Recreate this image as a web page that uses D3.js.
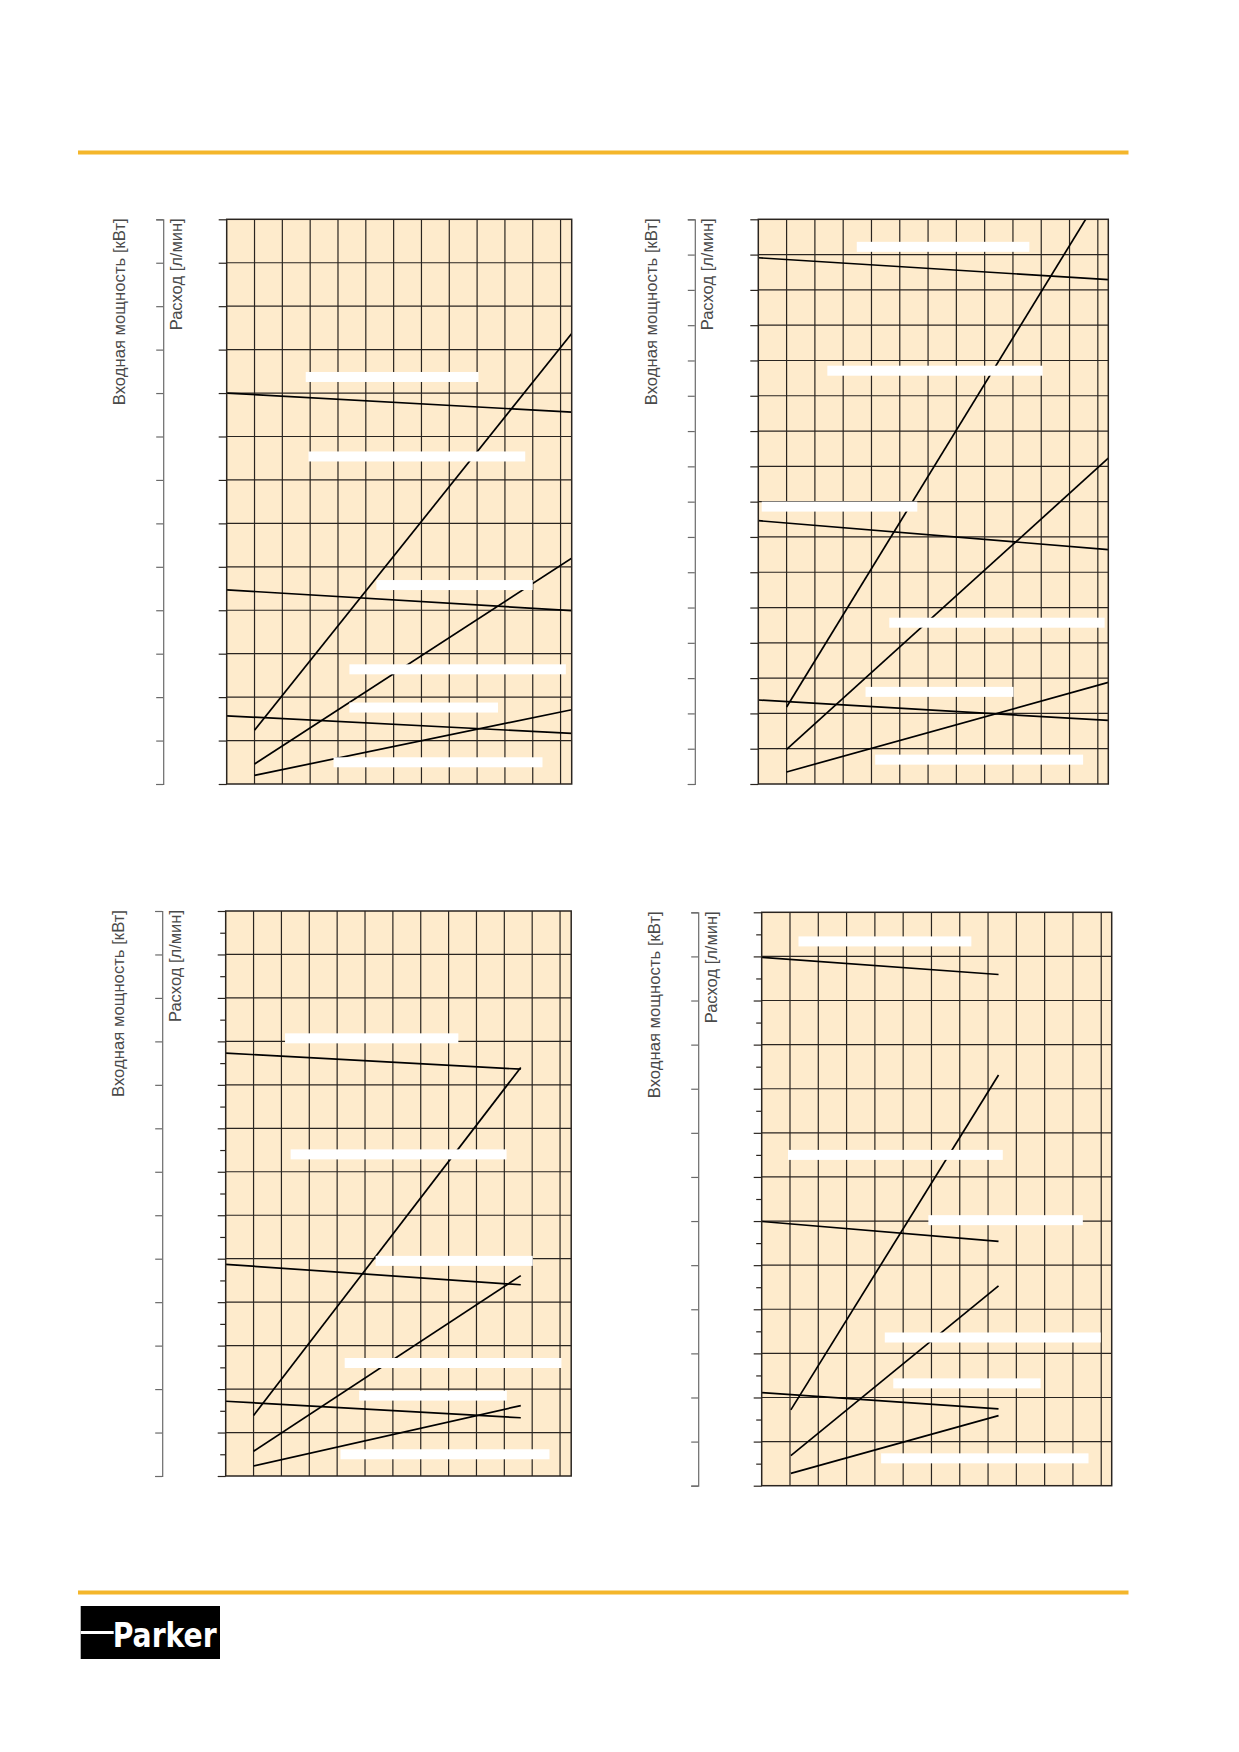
<!DOCTYPE html>
<html>
<head>
<meta charset="utf-8">
<script src="https://cdn.jsdelivr.net/npm/d3@7"></script>
<style>
  body { margin: 0; background: #fff; }
  svg { display: block; }
</style>
</head>
<body>
<div id="page"></div>
<script>
// axis titles (the same on every panel)
var kwTitle = "Входная мощность [кВт]";
var flowTitle = "Расход [л/мин]";
var logoText = "Parker";

// x extent of each panel in grid columns, y extent in grid rows
var xMaxes = [12.4, 12.37, 12.4, 12.37];
var yMaxes = [13, 16, 13, 13];
// spacing of the ticks on the inner (flow) axis
var flowSteps = [1, 1, 0.5, 0.5];

// curves in grid units [x, y]
var curves1 = [
  [[0, 9.0], [12.4, 8.56]],
  [[1, 1.24], [12.4, 10.37]],
  [[1, 0.46], [12.4, 5.2]],
  [[0, 4.47], [12.4, 3.99]],
  [[0, 1.57], [12.4, 1.165]],
  [[1, 0.2], [12.4, 1.71]]
];
var curves2 = [
  [[0, 14.91], [12.37, 14.29]],
  [[1, 2.18], [11.57, 16]],
  [[1, 0.98], [12.37, 9.23]],
  [[0, 7.46], [12.37, 6.64]],
  [[0, 2.38], [12.37, 1.8]],
  [[1, 0.34], [12.37, 2.88]]
];
var curves3 = [
  [[0, 9.73], [10.59, 9.36]],
  [[1, 1.39], [10.59, 9.4]],
  [[1, 0.57], [10.59, 4.61]],
  [[0, 4.87], [10.59, 4.4]],
  [[0, 1.72], [10.59, 1.34]],
  [[1, 0.23], [10.59, 1.62]]
];
var curves4 = [
  [[0, 11.98], [8.37, 11.59]],
  [[1.03, 1.72], [8.37, 9.31]],
  [[1.03, 0.68], [8.37, 4.53]],
  [[0, 5.99], [8.37, 5.54]],
  [[0, 2.11], [8.37, 1.74]],
  [[1.03, 0.28], [8.37, 1.59]]
];

// blanked-out label strips [x0, x1, y] in grid units
var strips1 = [
  [2.84, 9.05, 9.37], [2.94, 10.73, 7.54], [5.38, 11.0, 4.58],
  [4.41, 12.19, 2.64], [4.41, 9.75, 1.76], [3.84, 11.35, 0.5]
];
var strips2 = [
  [3.48, 9.58, 15.22], [2.44, 10.05, 11.71], [0.12, 5.62, 7.86],
  [4.63, 12.24, 4.57], [3.79, 9.02, 2.61], [4.13, 11.48, 0.69]
];
var strips3 = [
  [2.13, 8.35, 10.07], [2.33, 10.08, 7.4], [5.38, 11.02, 4.95],
  [4.27, 12.05, 2.6], [4.79, 10.09, 1.85], [4.12, 11.62, 0.5]
];
var strips4 = [
  [1.3, 7.41, 12.34], [0.93, 8.52, 7.5], [5.89, 11.35, 6.02],
  [4.35, 11.98, 3.36], [4.65, 9.86, 2.32], [4.22, 11.55, 0.62]
];

var allCurves = [curves1, curves2, curves3, curves4];
var allStrips = [strips1, strips2, strips3, strips4];

// where the plot areas sit on the page
var layout = [
  {left: 226.7, top: 219.3, width: 345, height: 564.7},
  {left: 758.3, top: 219.3, width: 350, height: 564.7},
  {left: 225.7, top: 911, width: 345.5, height: 565},
  {left: 761.7, top: 912.3, width: 350, height: 573.4}
];

var W = 1239, H = 1752;
var gold = "#f4b62b";

var svg = d3.select("#page").append("svg")
    .attr("width", W)
    .attr("height", H)
    .style("font-family", "'Liberation Sans', Arial, sans-serif");

svg.append("rect").attr("width", W).attr("height", H).attr("fill", "#fff");

// gold rules top and bottom
svg.selectAll(".rule")
  .data([152.5, 1592.5])
  .enter()
  .append("line")
    .attr("class", "rule")
    .attr("x1", 78).attr("x2", 1128.5)
    .attr("y1", function(d) { return d; })
    .attr("y2", function(d) { return d; })
    .attr("stroke", gold)
    .attr("stroke-width", 4);

function Panel(i) {
  var box = layout[i];
  this.i = i;
  this.box = box;
  this.x = d3.scaleLinear().domain([0, xMaxes[i]]).range([0, box.width]);
  this.y = d3.scaleLinear().domain([0, yMaxes[i]]).range([box.height, 0]);
  this.g = svg.append("g")
      .attr("transform", "translate(" + box.left + "," + box.top + ")");
}

Panel.prototype.draw = function() {
  var self = this;
  var i = this.i, w = this.box.width, h = this.box.height;

  this.g.append("clipPath").attr("id", "clip" + i)
    .append("rect").attr("width", w).attr("height", h);

  this.g.append("rect")
      .attr("width", w).attr("height", h)
      .attr("fill", "#feebcc");

  // grid
  this.g.selectAll(".vgrid")
    .data(d3.range(1, xMaxes[i]))
    .enter()
    .append("line")
      .attr("class", "vgrid")
      .attr("x1", function(d) { return self.x(d); })
      .attr("x2", function(d) { return self.x(d); })
      .attr("y1", 0).attr("y2", h)
      .attr("stroke", "#2a2520")
      .attr("stroke-width", 1.2);

  this.g.selectAll(".hgrid")
    .data(d3.range(1, yMaxes[i]))
    .enter()
    .append("line")
      .attr("class", "hgrid")
      .attr("y1", function(d) { return self.y(d); })
      .attr("y2", function(d) { return self.y(d); })
      .attr("x1", 0).attr("x2", w)
      .attr("stroke", "#2a2520")
      .attr("stroke-width", 1.2);

  var line = d3.line()
      .x(function(d) { return self.x(d[0]); })
      .y(function(d) { return self.y(d[1]); });

  this.g.append("g").attr("clip-path", "url(#clip" + i + ")")
    .selectAll("path")
    .data(allCurves[i])
    .enter()
    .append("path")
      .attr("d", line)
      .attr("fill", "none")
      .attr("stroke", "#000")
      .attr("stroke-width", 1.7);

  this.g.selectAll(".strip")
    .data(allStrips[i])
    .enter()
    .append("rect")
      .attr("class", "strip")
      .attr("x", function(d) { return self.x(d[0]); })
      .attr("width", function(d) { return self.x(d[1]) - self.x(d[0]); })
      .attr("y", function(d) { return self.y(d[2]) - 5; })
      .attr("height", 10)
      .attr("fill", "#fff");

  this.g.append("rect")
      .attr("width", w).attr("height", h)
      .attr("fill", "none")
      .attr("stroke", "#2a2520")
      .attr("stroke-width", 1.5);

  // inner (flow) axis at the plot edge
  var major = d3.range(0, yMaxes[i] + 0.001, 1);
  var minor = d3.range(0, yMaxes[i] + 0.001, flowSteps[i]).filter(function(v) { return v % 1 !== 0; });

  var flowAxis = this.g.append("g")
      .call(d3.axisLeft(this.y).tickValues(major).tickFormat("").tickSize(8).tickSizeOuter(0));
  if (minor.length) {
    flowAxis.append("g")
        .call(d3.axisLeft(this.y).tickValues(minor).tickFormat("").tickSize(5.5).tickSizeOuter(0));
  }
  flowAxis.selectAll("path.domain").remove();
  flowAxis.selectAll("line").attr("stroke", "#2a2520").attr("stroke-width", 1.2);

  // outer (power) axis as a bracket
  var kwAxis = this.g.append("g")
      .attr("transform", "translate(-63.5,0)")
      .call(d3.axisLeft(this.y).tickValues(major).tickFormat("").tickSize(7).tickSizeOuter(7));
  kwAxis.selectAll("path.domain").attr("stroke", "#6a6a6a").attr("stroke-width", 1.2);
  kwAxis.selectAll("line").attr("stroke", "#6a6a6a").attr("stroke-width", 1.2);

  this.g.append("text")
      .attr("transform", "translate(-101.5,-1) rotate(-90)")
      .attr("text-anchor", "end")
      .attr("font-size", 16.7)
      .attr("fill", "#4a4a4a")
      .text(kwTitle);

  this.g.append("text")
      .attr("transform", "translate(-45,-1) rotate(-90)")
      .attr("text-anchor", "end")
      .attr("font-size", 16.5)
      .attr("fill", "#4a4a4a")
      .text(flowTitle);
};

for (var k = 0; k < layout.length; k++) {
  new Panel(k).draw();
}

// logo block
var logo = svg.append("g").attr("transform", "translate(80.7,1606)");
logo.append("rect").attr("width", 139.3).attr("height", 53).attr("fill", "#000");
logo.append("rect").attr("x", 0).attr("y", 25).attr("width", 33).attr("height", 3).attr("fill", "#fff");
logo.append("text")
    .attr("x", 32).attr("y", 40.5)
    .attr("textLength", 104)
    .attr("lengthAdjust", "spacingAndGlyphs")
    .attr("font-family", "'DejaVu Sans Condensed', 'DejaVu Sans', sans-serif")
    .attr("font-size", 33)
    .attr("font-weight", "bold")
    .attr("fill", "#fff")
    .text(logoText);
</script>
</body>
</html>
